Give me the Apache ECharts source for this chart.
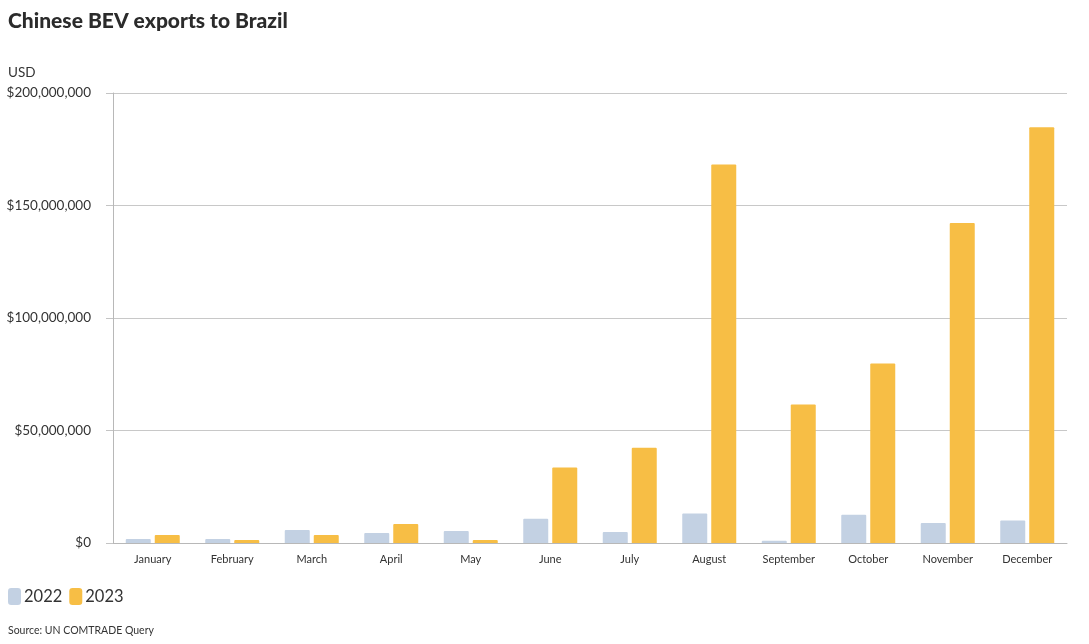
<!DOCTYPE html>
<html>
<head>
<meta charset="utf-8">
<title>Chinese BEV exports to Brazil</title>
<script src="https://cdn.jsdelivr.net/npm/echarts@6/dist/echarts.min.js"></script>
<style>
  html, body { margin: 0; padding: 0; background: #fff; }
  #chart { width: 1089px; height: 644px; }
</style>
</head>
<body>
<div id="chart"></div>
<script>
// 月份
var months = ['January', 'February', 'March', 'April', 'May', 'June',
              'July', 'August', 'September', 'October', 'November', 'December'];
// 出口额（美元）
var values2022 = [1800000, 1800000, 5800000, 4400000, 5300000, 10800000,
                  4900000, 13100000, 1000000, 12600000, 8900000, 10000000];
var values2023 = [3600000, 1300000, 3600000, 8400000, 1300000, 33600000,
                  42300000, 168200000, 61600000, 79800000, 142200000, 184800000];
var yTicks = [0, 50000000, 100000000, 150000000, 200000000];

var fontFamily = 'Lato, "Open Sans", sans-serif';

// 三位一逗号
function fnToThousands(num) {
    var s = (num || 0).toString(), result = '';
    while (s.length > 3) {
        result = ',' + s.slice(-3) + result;
        s = s.slice(0, s.length - 3);
    }
    if (s) { result = s + result; }
    return result;
}

var option = {
    backgroundColor: '#fff',
    animation: false,
    textStyle: { fontFamily: fontFamily },
    title: [{
        text: 'Chinese BEV exports to Brazil',
        left: 3, top: 6,
        textStyle: { fontFamily: fontFamily, fontSize: 21, fontWeight: 900, color: '#2b2b2b' }
    }, {
        text: 'USD',
        left: 3, top: 61,
        textStyle: { fontFamily: fontFamily, fontSize: 13.5, fontWeight: 'normal', color: '#333' }
    }, {
        text: 'Source: UN COMTRADE Query',
        left: 3, top: 620,
        textStyle: { fontFamily: fontFamily, fontSize: 10.5, fontWeight: 'normal', color: '#333' }
    }],
    legend: {
        left: 3, top: 583,
        icon: 'roundRect',
        itemWidth: 13, itemHeight: 17,
        itemGap: 7,
        textStyle: { fontFamily: fontFamily, fontSize: 16.5, color: '#333', padding: [0, 0, 0, -2] },
        data: ['2022', '2023']
    },
    grid: { left: 113, right: 22, top: 93, bottom: 101 },
    xAxis: {
        type: 'category',
        data: months,
        axisLine: { lineStyle: { color: '#b8b8b8' } },
        axisTick: { alignWithLabel: true, length: 7, lineStyle: { color: '#b8b8b8' } },
        axisLabel: { fontSize: 11, color: '#333', margin: 11, interval: 0 }
    },
    yAxis: {
        type: 'value',
        min: yTicks[0], max: yTicks[yTicks.length - 1], interval: 50000000,
        axisLine: { show: true, lineStyle: { color: '#b8b8b8' } },
        axisTick: { show: true, length: 7, lineStyle: { color: '#c4c4c4' } },
        splitLine: { lineStyle: { color: '#c8c8c8' } },
        axisLabel: {
            fontSize: 13.5, color: '#333', margin: 22,
            formatter: function (v) { return '$' + fnToThousands(v); }
        }
    },
    series: [{
        name: '2022',
        type: 'bar',
        data: values2022,
        barWidth: 25,
        barGap: '16%',
        itemStyle: { color: '#c3d1e3', borderRadius: [1, 1, 0, 0] }
    }, {
        name: '2023',
        type: 'bar',
        data: values2023,
        barWidth: 25,
        itemStyle: { color: '#f7be45', borderRadius: [1, 1, 0, 0] }
    }]
};

var chart = echarts.init(document.getElementById('chart'));
chart.setOption(option);
</script>
</body>
</html>
